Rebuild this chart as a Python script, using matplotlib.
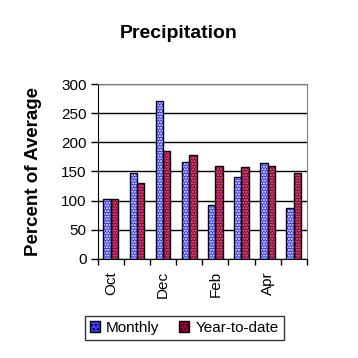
import numpy as np
import matplotlib.pyplot as plt
from matplotlib.patches import Patch

plt.rcParams['font.family'] = ['Liberation Sans', 'DejaVu Sans']
plt.rcParams['hatch.linewidth'] = 1.0

months = ["Oct", "Nov", "Dec", "Jan", "Feb", "Mar", "Apr", "May"]
monthly = [102, 148, 271, 166, 92, 140, 164, 87]
ytd = [102, 131, 186, 178, 160, 157, 159, 148]
yticks = [0, 50, 100, 150, 200, 250, 300]

blue, blue_dots = "#3a3aff", "white"
red, red_dots = "#990033", "#d070a0"

fig = plt.figure(figsize=(3.58, 3.58), dpi=100)
ax = fig.add_axes([0.273, 0.2774, 0.584, 0.4871])

x = np.arange(len(months))
w = 0.28
# filled bars with dotted hatch, then black outline on top
ax.bar(x - w / 2, monthly, w, color=blue, edgecolor=blue_dots, hatch="......", linewidth=0, zorder=3)
ax.bar(x - w / 2, monthly, w, fill=False, edgecolor="black", linewidth=1, zorder=4)
ax.bar(x + w / 2, ytd, w, color=red, edgecolor=red_dots, hatch="......", linewidth=0, zorder=3)
ax.bar(x + w / 2, ytd, w, fill=False, edgecolor="black", linewidth=1, zorder=4)

ax.set_xlim(-0.5, len(months) - 0.5)
ax.set_ylim(0, 300)
ax.set_yticks(yticks)
ax.tick_params(axis="y", labelsize=11, length=5, direction="out", width=1, pad=3)
ax.yaxis.grid(True, color="black", linewidth=1, zorder=0)
ax.set_axisbelow(True)

# ticks between categories, labels every other month
ax.set_xticks(np.arange(-0.5, len(months), 1.0))
ax.set_xticklabels([])
ax.set_xticks(x[::2], minor=True)
ax.set_xticklabels(months[::2], minor=True, rotation=90, fontsize=11)
ax.tick_params(axis="x", which="major", length=4, width=1)
ax.tick_params(axis="x", which="minor", length=0, pad=9)

for s in ["top", "right"]:
    ax.spines[s].set_color("#808080")
for s in ["left", "bottom"]:
    ax.spines[s].set_color("black")

fig.text(0.5, 1 - 34 / 358, "Precipitation", fontsize=14, fontweight="bold", ha="center", va="center")
ax.set_ylabel("Percent of Average", fontsize=13.5, fontweight="bold")
ax.yaxis.set_label_coords(-0.265, 0.5)

handles = [Patch(facecolor=blue, edgecolor="black", hatch="...."),
           Patch(facecolor=red, edgecolor="black", hatch="....")]
leg = fig.legend(handles, ["Monthly", "Year-to-date"], loc="center", bbox_to_anchor=(0.515, 0.084),
                 ncol=2, fontsize=11, frameon=True, fancybox=False, handlelength=0.65, handleheight=0.65,
                 handletextpad=0.4, columnspacing=1.3, borderpad=0.35, borderaxespad=0)
leg.get_frame().set_edgecolor("black")
leg.get_frame().set_linewidth(1)

fig.savefig("out.png", dpi=100)
